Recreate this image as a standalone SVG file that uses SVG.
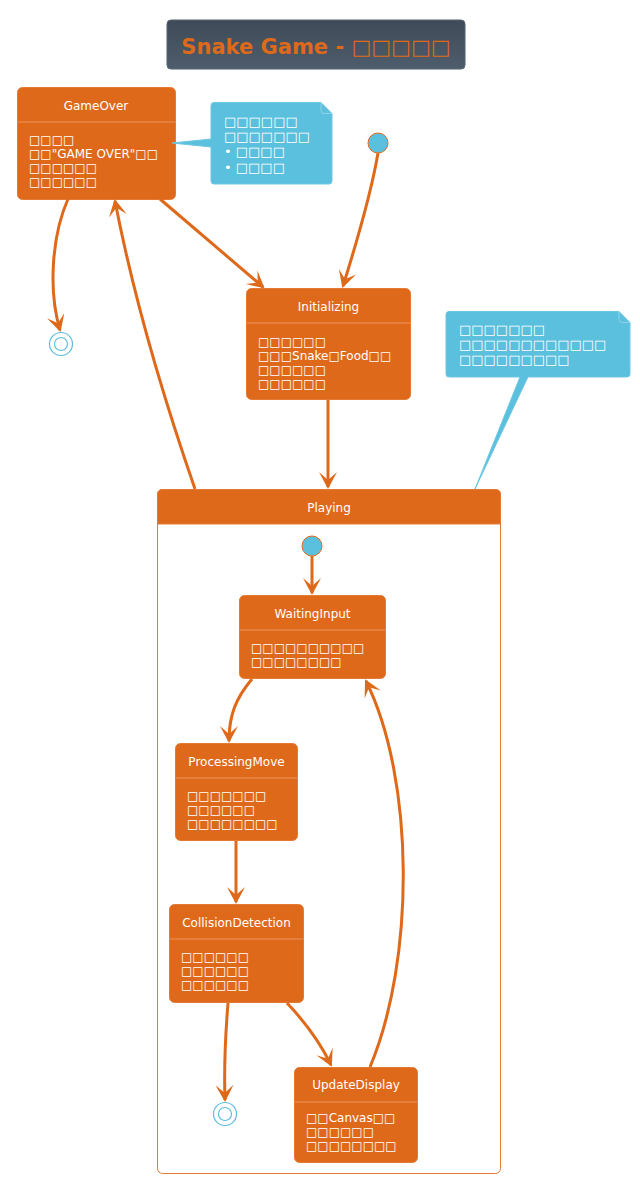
<svg xmlns="http://www.w3.org/2000/svg" width="640" height="1184" viewBox="0 0 640 1184">
<defs>
<linearGradient id="tg" x1="0" y1="0" x2="0" y2="1">
<stop offset="0" stop-color="#3F4A57"/>
<stop offset="1" stop-color="#4E5D6C"/>
</linearGradient>
<marker id="ah" markerUnits="userSpaceOnUse" markerWidth="20" markerHeight="20" refX="15" refY="9" orient="auto">
<path d="M0,0 L17,9 L0,18 L8,9 Z" fill="#DF691A"/>
</marker>
<style>
text{font-family:"DejaVu Sans",Verdana,"Liberation Sans",sans-serif;fill:#FFFFFF}
.st{fill:#DF691A;stroke:#E37A35;stroke-width:1}
.sep{stroke:#EA9460;stroke-width:1}
.ttl{font-size:12px;text-anchor:middle}
.bd{font-size:12px}
.nt{font-size:13px}
.note{fill:#5BC0DE;stroke:#6CC7E2;stroke-width:1}
.fold{fill:none;stroke:#8ED3E8;stroke-width:1}
.con{fill:none;stroke:#DF691A;stroke-width:3;marker-end:url(#ah)}
.ini{fill:#5BC0DE;stroke:#DF691A;stroke-width:1}
.fin{fill:none;stroke:#5BC0DE;stroke-width:1.2}
</style>
</defs>
<rect width="640" height="1184" fill="#FFFFFF"/>

<g id="title">
<rect x="167" y="20" width="298" height="49" rx="4" fill="url(#tg)" stroke="#56646F" stroke-width="1"/>
<text x="316" y="53.5" text-anchor="middle" style="font-size:21px;font-weight:bold;fill:#DF691A">Snake Game - □□□□□</text>
</g>

<g id="Playing">
<rect x="157.5" y="489.5" width="343" height="684" rx="5" fill="#FFFFFF" stroke="#E37A35" stroke-width="1"/>
<path d="M157.5,524 V494.5 Q157.5,489.5 162.5,489.5 H495.5 Q500.5,489.5 500.5,494.5 V524 Z" fill="#DF691A" stroke="#E37A35" stroke-width="1"/>
<text class="ttl" x="329" y="512">Playing</text>
</g>

<g id="start">
<circle class="ini" cx="378" cy="143" r="10"/>
</g>

<g id="end">
<circle class="fin" cx="61" cy="344" r="11.5"/>
<circle class="fin" cx="61" cy="344" r="6.5"/>
</g>

<g id="GameOver">
<rect class="st" x="17.5" y="87.5" width="158" height="112" rx="5"/>
<line class="sep" x1="17.5" y1="122" x2="175.5" y2="122"/>
<text class="ttl" x="96" y="110">GameOver</text>
<text class="bd" x="29" y="143.5">□□□□</text>
<text class="bd" x="29" y="157.5">□□"GAME OVER"□□</text>
<text class="bd" x="29" y="171.5">□□□□□□</text>
<text class="bd" x="29" y="185.5">□□□□□□</text>
</g>

<g id="note1">
<path class="note" d="M214,102.5 H321 L332,113.5 V181 Q332,184 329,184 H214 Q211,184 211,181 V147 L172,143 L211,139 V105.5 Q211,102.5 214,102.5 Z"/>
<path class="fold" d="M321,102.5 V110.5 Q321,113.5 324,113.5 H332"/>
<text class="nt" x="224" y="125.8">□□□□□□</text>
<text class="nt" x="224" y="141">□□□□□□□</text>
<text class="nt" x="224" y="156.4">• □□□□</text>
<text class="nt" x="224" y="171.7">• □□□□</text>
</g>

<g id="Initializing">
<rect class="st" x="246.5" y="288.5" width="164" height="111" rx="5"/>
<line class="sep" x1="246.5" y1="323" x2="410.5" y2="323"/>
<text class="ttl" x="328.5" y="311">Initializing</text>
<text class="bd" x="258" y="345.5">□□□□□□</text>
<text class="bd" x="258" y="359.5">□□□Snake□Food□□</text>
<text class="bd" x="258" y="373.5">□□□□□□</text>
<text class="bd" x="258" y="387.5">□□□□□□</text>
</g>

<g id="note2">
<path class="note" d="M449,311.5 H619 L630,322.5 V374 Q630,377 627,377 H528 L475,489 L520,377 H449 Q446,377 446,374 V314.5 Q446,311.5 449,311.5 Z"/>
<path class="fold" d="M619,311.5 V319.5 Q619,322.5 622,322.5 H630"/>
<text class="nt" x="459" y="333.8">□□□□□□□</text>
<text class="nt" x="459" y="349">□□□□□□□□□□□□</text>
<text class="nt" x="459" y="364.3">□□□□□□□□□</text>
</g>

<g id="innerStart">
<circle class="ini" cx="312" cy="546" r="10"/>
</g>

<g id="innerEnd">
<circle class="fin" cx="225" cy="1114" r="11.5"/>
<circle class="fin" cx="225" cy="1114" r="6.5"/>
</g>

<g id="WaitingInput">
<rect class="st" x="239.5" y="595.5" width="146" height="83" rx="5"/>
<line class="sep" x1="239.5" y1="630" x2="385.5" y2="630"/>
<text class="ttl" x="312.5" y="617.5">WaitingInput</text>
<text class="bd" x="251" y="652">□□□□□□□□□□</text>
<text class="bd" x="251" y="666">□□□□□□□□</text>
</g>

<g id="ProcessingMove">
<rect class="st" x="175.5" y="743.5" width="122" height="97" rx="5"/>
<line class="sep" x1="175.5" y1="778" x2="297.5" y2="778"/>
<text class="ttl" x="236.5" y="765.5">ProcessingMove</text>
<text class="bd" x="187" y="800">□□□□□□□</text>
<text class="bd" x="187" y="814">□□□□□□</text>
<text class="bd" x="187" y="828">□□□□□□□□</text>
</g>

<g id="CollisionDetection">
<rect class="st" x="169.5" y="904.5" width="134" height="98" rx="5"/>
<line class="sep" x1="169.5" y1="939" x2="303.5" y2="939"/>
<text class="ttl" x="236.5" y="926.5">CollisionDetection</text>
<text class="bd" x="181" y="961">□□□□□□</text>
<text class="bd" x="181" y="975">□□□□□□</text>
<text class="bd" x="181" y="989">□□□□□□</text>
</g>

<g id="UpdateDisplay">
<rect class="st" x="294.5" y="1067.5" width="123" height="95" rx="5"/>
<line class="sep" x1="294.5" y1="1102" x2="417.5" y2="1102"/>
<text class="ttl" x="356" y="1088.5">UpdateDisplay</text>
<text class="bd" x="306" y="1122">□□Canvas□□</text>
<text class="bd" x="306" y="1136">□□□□□□</text>
<text class="bd" x="306" y="1150">□□□□□□□□</text>
</g>

<g id="connectors">
<path class="con" d="M378,153 Q370,200 343,286"/>
<path class="con" d="M160,199 L263,287"/>
<path class="con" d="M68,199 C52,235 48,290 60,330"/>
<path class="con" d="M195,489 Q140,330 115,201"/>
<path class="con" d="M328,400 L328,487"/>
<path class="con" d="M312,556 L312,593"/>
<path class="con" d="M252,679 C236,698 229,715 229,741"/>
<path class="con" d="M236,841 L236,902"/>
<path class="con" d="M228,1003 C225,1040 224,1070 225,1100"/>
<path class="con" d="M287,1003 C305,1022 320,1042 331,1065"/>
<path class="con" d="M370,1067 C415,960 415,780 366,681"/>
</g>
</svg>
